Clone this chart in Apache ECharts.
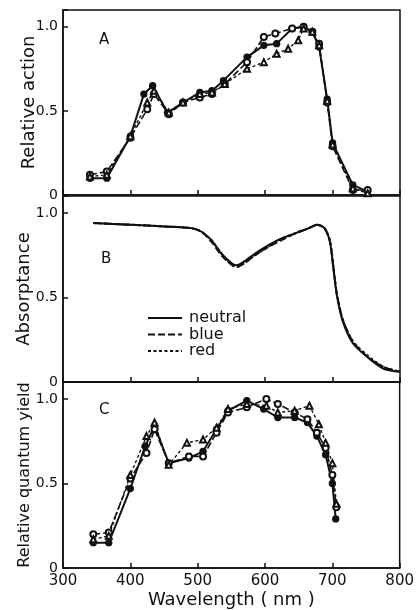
<!DOCTYPE html>
<html>
<head>
<meta charset="utf-8">
<script src="https://cdn.jsdelivr.net/npm/echarts@6/dist/echarts.min.js"></script>
<style>html,body{margin:0;padding:0;background:#fff}#c{width:417px;height:610px}</style>
</head>
<body>
<div id="c"></div>
<script>
// Panel A: relative action
const aNeutralX = [340, 365, 400, 420, 433, 455, 478, 503, 521, 538, 573, 598, 617, 640, 657, 670, 680, 692, 700, 730, 752];
const aNeutralY = [0.10, 0.10, 0.35, 0.60, 0.65, 0.49, 0.55, 0.61, 0.62, 0.68, 0.82, 0.89, 0.90, 0.99, 1.00, 0.97, 0.88, 0.57, 0.31, 0.06, 0.02];
const aBlueX = [340, 365, 400, 425, 435, 457, 478, 503, 521, 540, 573, 598, 615, 640, 657, 670, 680, 692, 700, 730, 752];
const aBlueY = [0.12, 0.14, 0.34, 0.51, 0.60, 0.48, 0.55, 0.58, 0.60, 0.66, 0.79, 0.94, 0.96, 0.99, 1.00, 0.97, 0.90, 0.55, 0.29, 0.03, 0.03];
const aRedX = [340, 365, 400, 425, 435, 457, 478, 503, 521, 540, 573, 598, 617, 634, 649, 657, 670, 680, 692, 700, 730, 752];
const aRedY = [0.11, 0.12, 0.35, 0.55, 0.62, 0.49, 0.55, 0.60, 0.61, 0.66, 0.75, 0.79, 0.84, 0.87, 0.92, 0.99, 0.97, 0.89, 0.56, 0.30, 0.04, 0.01];

// Panel B: absorptance
const bX = [345, 400, 450, 490, 505, 520, 535, 548, 558, 568, 585, 605, 625, 645, 665, 677, 688, 696, 701, 706, 715, 730, 751, 775, 800];
const bNeutralY = [0.94, 0.93, 0.92, 0.91, 0.89, 0.84, 0.76, 0.71, 0.69, 0.71, 0.76, 0.81, 0.85, 0.88, 0.91, 0.93, 0.91, 0.83, 0.68, 0.52, 0.36, 0.23, 0.15, 0.08, 0.06];
const bBlueY = [0.94, 0.93, 0.92, 0.91, 0.89, 0.83, 0.75, 0.70, 0.68, 0.70, 0.75, 0.80, 0.84, 0.88, 0.91, 0.93, 0.91, 0.83, 0.68, 0.53, 0.37, 0.24, 0.15, 0.09, 0.06];
const bRedY = [0.94, 0.93, 0.92, 0.91, 0.89, 0.84, 0.76, 0.70, 0.68, 0.70, 0.75, 0.80, 0.85, 0.88, 0.91, 0.93, 0.91, 0.84, 0.69, 0.53, 0.37, 0.24, 0.16, 0.09, 0.06];

// Panel C: relative quantum yield
const cNeutralX = [345, 368, 400, 422, 436, 457, 487, 508, 528, 545, 573, 598, 619, 644, 663, 677, 690, 700, 705];
const cNeutralY = [0.15, 0.15, 0.47, 0.72, 0.84, 0.62, 0.65, 0.69, 0.82, 0.93, 0.99, 0.94, 0.89, 0.89, 0.86, 0.78, 0.67, 0.50, 0.29];
const cBlueX = [345, 368, 400, 424, 436, 457, 487, 508, 528, 545, 573, 602, 619, 644, 663, 677, 690, 700, 706];
const cBlueY = [0.20, 0.21, 0.53, 0.68, 0.82, 0.62, 0.66, 0.66, 0.80, 0.92, 0.95, 1.00, 0.97, 0.92, 0.88, 0.80, 0.71, 0.55, 0.36];
const cRedX = [345, 368, 400, 424, 436, 457, 484, 508, 528, 545, 573, 602, 619, 644, 666, 680, 690, 700, 706];
const cRedY = [0.17, 0.19, 0.55, 0.78, 0.86, 0.61, 0.74, 0.76, 0.83, 0.94, 0.97, 0.96, 0.92, 0.93, 0.96, 0.85, 0.74, 0.62, 0.38];

const xTicks = [300, 400, 500, 600, 700, 800];
const yTickLabels = {0: '0', 0.5: '0.5', 1: '1.0'};
const legendNames = ['neutral', 'blue', 'red'];
const panelLetters = ['A', 'B', 'C'];
const yNames = ['Relative action', 'Absorptance', 'Relative quantum yield'];
const xName = 'Wavelength ( nm )';

const pairs = (xs, ys) => xs.map((v, i) => [v, ys[i]]);
const FONT = 'DejaVu Sans';
const BLACK = '#111';

const grids = [
  {left: 63, width: 337, top: 10, height: 185},
  {left: 63, width: 337, top: 196, height: 186},
  {left: 63, width: 337, top: 382, height: 186}
].map(g => Object.assign(g, {show: true, borderColor: BLACK, borderWidth: 1.5, backgroundColor: 'transparent'}));

const xAxes = [0, 1, 2].map(i => ({
  type: 'value', gridIndex: i, min: xTicks[0], max: xTicks[xTicks.length - 1], interval: 100,
  axisLine: {lineStyle: {color: BLACK, width: 1.5}},
  axisTick: {inside: true, length: 5, lineStyle: {color: BLACK, width: 1.5}},
  splitLine: {show: false},
  axisLabel: {show: i === 2, color: BLACK, fontSize: 15, fontFamily: FONT, margin: 6},
  name: i === 2 ? xName : '', nameLocation: 'middle', nameGap: 23, nameMoveOverlap: false,
  nameTextStyle: {color: BLACK, fontSize: 18, fontFamily: FONT}
}));

const yGaps = [25, 30, 30];
const ySizes = [18, 18, 16];
const yAxes = [0, 1, 2].map(i => ({
  type: 'value', gridIndex: i, min: 0, max: 1.1, interval: 0.5,
  axisLine: {lineStyle: {color: BLACK, width: 1.5}},
  axisTick: {inside: true, length: 5, lineStyle: {color: BLACK, width: 1.5}},
  splitLine: {show: false},
  axisLabel: {color: BLACK, fontSize: 14, fontFamily: FONT, margin: 5,
    formatter: v => (yTickLabels[Math.round(v * 10) / 10] !== undefined ? yTickLabels[Math.round(v * 10) / 10] : '')},
  name: yNames[i], nameLocation: 'middle', nameGap: yGaps[i], nameMoveOverlap: false,
  nameTextStyle: {color: BLACK, fontSize: ySizes[i], fontFamily: FONT}
}));

const styles = {
  neutral: {symbol: 'circle', line: {type: 'solid', width: 2}},
  blue: {symbol: 'emptyCircle', line: {type: [7, 3], width: 1.6}},
  red: {symbol: 'emptyTriangle', line: {type: [3, 2.5], width: 1.4}}
};

function markSeries(name, kind, idx, xs, ys) {
  const s = styles[kind];
  return {
    type: 'line', name: name, xAxisIndex: idx, yAxisIndex: idx, data: pairs(xs, ys),
    symbol: s.symbol, symbolSize: 6, showSymbol: true,
    itemStyle: {color: BLACK, borderColor: BLACK, borderWidth: 1.3},
    lineStyle: {color: BLACK, type: s.line.type, width: s.line.width},
    z: 3, animation: false
  };
}
function curveSeries(kind, ys) {
  const s = styles[kind];
  return {
    type: 'line', name: kind, xAxisIndex: 1, yAxisIndex: 1, data: pairs(bX, ys),
    symbol: 'none', smooth: 0.25,
    lineStyle: {color: BLACK, type: s.line.type, width: 2},
    itemStyle: {color: BLACK}, animation: false
  };
}

const series = [
  markSeries('A neutral', 'neutral', 0, aNeutralX, aNeutralY),
  markSeries('A blue', 'blue', 0, aBlueX, aBlueY),
  markSeries('A red', 'red', 0, aRedX, aRedY),
  curveSeries('neutral', bNeutralY),
  curveSeries('blue', bBlueY),
  curveSeries('red', bRedY),
  markSeries('C neutral', 'neutral', 2, cNeutralX, cNeutralY),
  markSeries('C blue', 'blue', 2, cBlueX, cBlueY),
  markSeries('C red', 'red', 2, cRedX, cRedY)
];

const titlePos = [[99, 33], [101, 252], [99, 403]];
const titles = panelLetters.map((t, i) => ({
  text: t, left: titlePos[i][0], top: titlePos[i][1], padding: 0,
  textStyle: {color: BLACK, fontSize: 15, fontWeight: 'normal', fontFamily: FONT}
}));

const chart = echarts.init(document.getElementById('c'), null, {renderer: 'canvas'});
chart.setOption({
  backgroundColor: '#fff',
  animation: false,
  title: titles,
  grid: grids,
  xAxis: xAxes,
  yAxis: yAxes,
  legend: {
    data: legendNames, orient: 'vertical', left: 147, top: 310, padding: 0,
    itemWidth: 34, itemHeight: 10, itemGap: 0.5, selectedMode: false,
    itemStyle: {opacity: 0, borderWidth: 0},
    lineStyle: {width: 2},
    textStyle: {color: BLACK, fontSize: 16, lineHeight: 15, fontFamily: FONT, padding: [0, 0, 0, 2]}
  },
  series: series
});
</script>
</body>
</html>
